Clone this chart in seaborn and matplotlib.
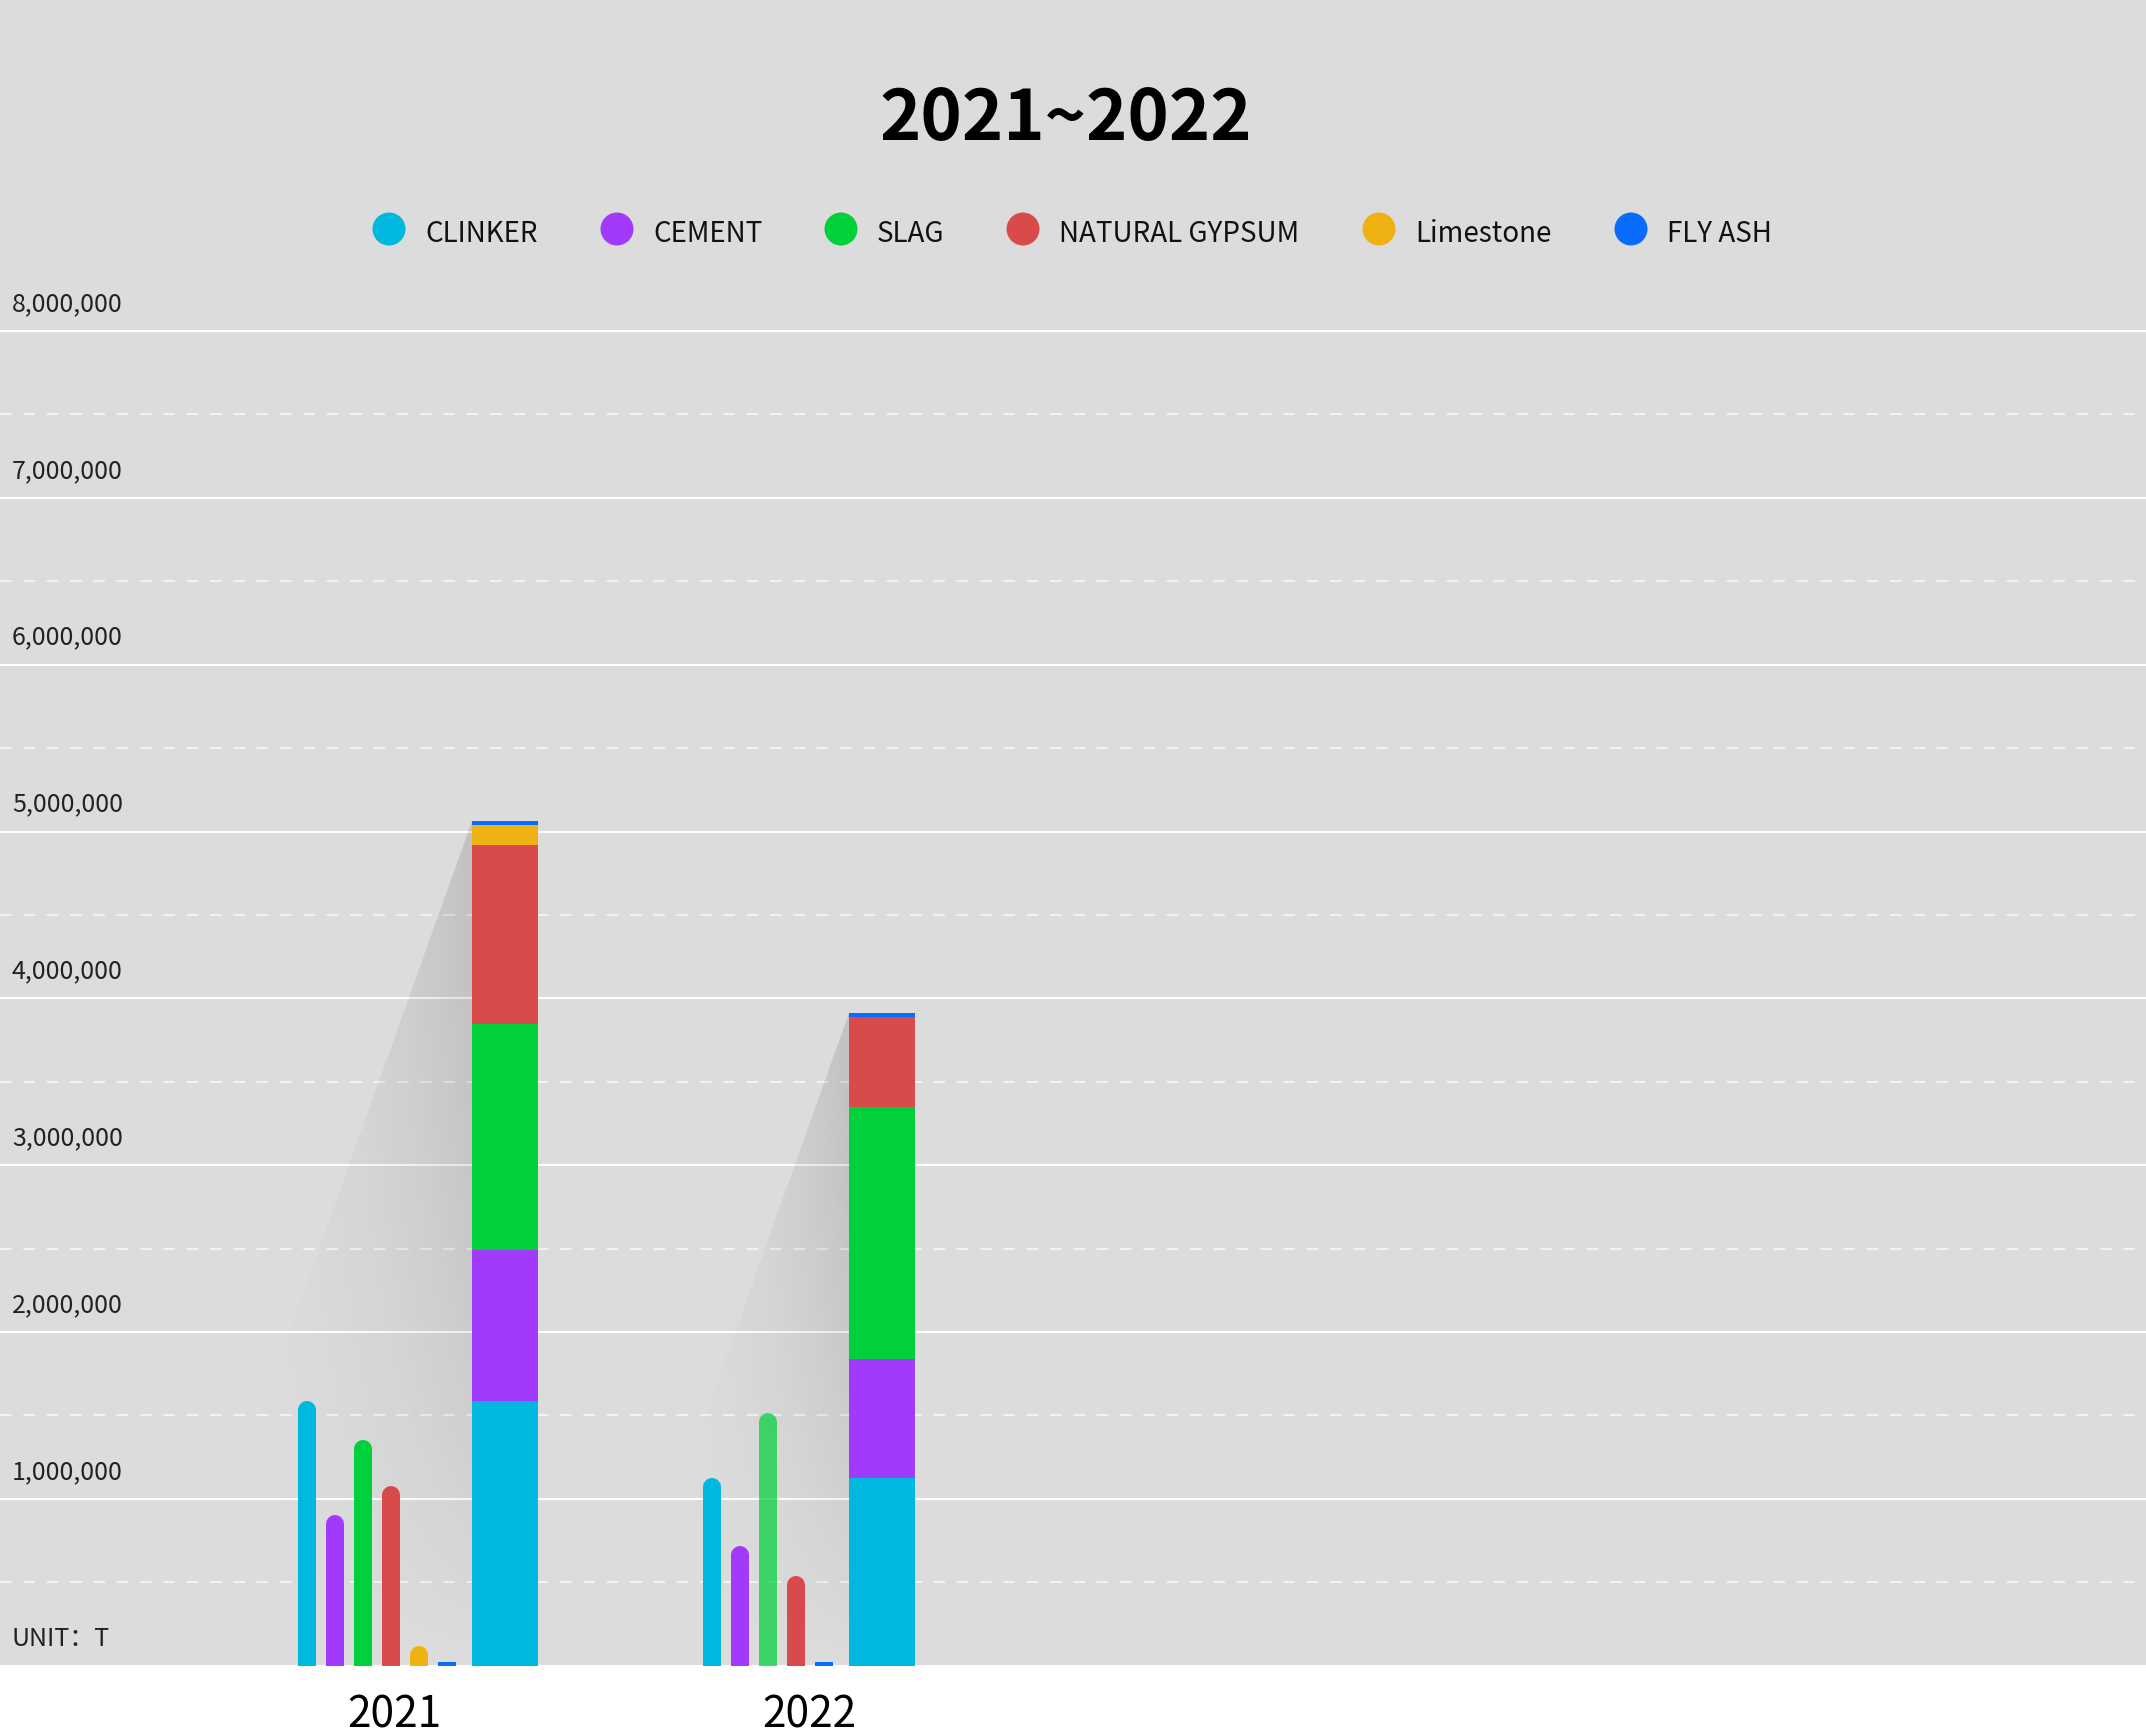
import numpy as np
import pandas as pd
import matplotlib
matplotlib.use("Agg")
import matplotlib.pyplot as plt
import matplotlib.transforms as mtransforms
from matplotlib.patches import Ellipse, Polygon, Rectangle
import seaborn as sns

# ---------------- data ----------------
title = "2021~2022"
years = ["2021", "2022"]
series_names = ["CLINKER", "CEMENT", "SLAG", "NATURAL GYPSUM", "Limestone", "FLY ASH"]
clinker = [1587000, 1123000]
cement = [906000, 715000]
slag = [1352000, 1512000]
natural_gypsum = [1075000, 537000]
limestone = [119000, np.nan]
fly_ash = [22000, 23000]
y_ticks = [0, 1000000, 2000000, 3000000, 4000000, 5000000, 6000000, 7000000, 8000000]
y_tick_labels = ["UNIT：T", "1,000,000", "2,000,000", "3,000,000", "4,000,000",
                 "5,000,000", "6,000,000", "7,000,000", "8,000,000"]

# ---------------- style ----------------
series_colors = ["#00B7DE", "#A23AFB", "#00D13A", "#D94B4B", "#EFB213", "#0A6CFF"]
faded = {(1, 2): 0.72}          # (category, series) drawn lighter
BG = "#dcdcdc"
W_PX, H_PX = 2146, 1736
DPI = 100
CAT_PX = 415.0                  # px per category
CAT0_PX = 394.0                 # px of first category centre
BAR_W_PX, STEP_PX, GAP_PX, STACK_W_PX = 18.0, 28.0, 16.0, 66.0
GROUP_SHIFT_PX = [23.5, -0.5]
AX_BOTTOM = 1 - 1665.7 / H_PX
Y8_FRAC = 1 - 331.0 / H_PX
YMAX = 8200000
AX_H = (Y8_FRAC - AX_BOTTOM) * YMAX / 8000000
SHADOW_SLOPE = 0.357
SHADOW_AMAX = 0.12

sns.set_theme(style="white")
plt.rcParams["font.family"] = ["Noto Sans CJK SC", "DejaVu Sans"]

series_values = [clinker, cement, slag, natural_gypsum, limestone, fly_ash]

fig = plt.figure(figsize=(W_PX / DPI, H_PX / DPI), dpi=DPI)
fig.patch.set_facecolor("white")
fig.add_artist(Rectangle((0, AX_BOTTOM), 1, 1 - AX_BOTTOM, transform=fig.transFigure,
                         facecolor=BG, edgecolor="none", zorder=-5))
ax = fig.add_axes([0, AX_BOTTOM, 1, AX_H])
ax.set_facecolor("none")
for s in ax.spines.values():
    s.set_visible(False)

xlim = (-CAT0_PX / CAT_PX, (W_PX - CAT0_PX) / CAT_PX)
ax_h_px = AX_H * H_PX
px_per_y = ax_h_px / YMAX
r_data = (BAR_W_PX / 2) / px_per_y

# ---------------- layout of groups ----------------
stack_centers = []
stack_lefts = []
small_positions = []  # (cat, series, x)
for i in range(len(years)):
    present = [j for j in range(len(series_names)) if not np.isnan(series_values[j][i])]
    n = len(present)
    width = (n - 1) * STEP_PX + BAR_W_PX + GAP_PX + STACK_W_PX
    left = i * CAT_PX + GROUP_SHIFT_PX[i] - width / 2
    for k, j in enumerate(present):
        small_positions.append((i, j, (left + BAR_W_PX / 2 + k * STEP_PX) / CAT_PX))
    sl = left + (n - 1) * STEP_PX + BAR_W_PX + GAP_PX
    stack_lefts.append(sl / CAT_PX)
    stack_centers.append((sl + STACK_W_PX / 2) / CAT_PX)

# ---------------- grid ----------------
ax.set_axisbelow(True)
ax.set_yticks(y_ticks)
ax.set_yticks([t + 500000 for t in y_ticks[:-1]], minor=True)
ax.yaxis.grid(True, which="major", color="white", linewidth=1.5)
ax.yaxis.grid(True, which="minor", color="#f2f2f2", linewidth=1.5, linestyle=(0, (5.6, 5.6)))
ax.xaxis.grid(False)
ax.tick_params(axis="both", which="both", length=0, labelleft=False, labelbottom=False)

# ---------------- shadows ----------------
totals = [np.nansum([series_values[j][i] for j in range(len(series_names))]) for i in range(len(years))]
for i in range(len(years)):
    top = totals[i]
    x_right = stack_lefts[i]
    w_px = SHADOW_SLOPE * top * px_per_y
    x_left = x_right - w_px / CAT_PX
    nx, ny = 200, 400
    u = np.linspace(0, 1, nx)[None, :]
    v = np.linspace(1, 0, ny)[:, None]
    img = np.zeros((ny, nx, 4))
    img[..., 3] = SHADOW_AMAX * u ** 2.5 * (1 - v ** 2)
    im = ax.imshow(img, extent=(x_left, x_right, 0, top), origin="lower", aspect="auto",
                   interpolation="bilinear", zorder=2)
    poly = Polygon([(x_right, top), (x_right, 0), (x_left, 0)], closed=True,
                   transform=ax.transData, facecolor="none", edgecolor="none")
    im.set_clip_path(poly)

# ---------------- stacked bars (seaborn) ----------------
cum = np.zeros(len(years))
cums = []
for j in range(len(series_names)):
    cum = cum + np.nan_to_num(np.array(series_values[j], dtype=float))
    cums.append(cum.copy())
width_rel = (STACK_W_PX / CAT_PX) / (stack_centers[1] - stack_centers[0])
for j in reversed(range(len(series_names))):
    df = pd.DataFrame({"x": stack_centers, "y": cums[j]})
    sns.barplot(data=df, x="x", y="y", native_scale=True, orient="x", width=width_rel,
                color=series_colors[j], saturation=1, errorbar=None, linewidth=0,
                edgecolor="none", ax=ax, zorder=3)

# ---------------- small rounded bars ----------------
lw_pt = BAR_W_PX * 72 / DPI
for (i, j, x) in small_positions:
    val = series_values[j][i]
    alpha = faded.get((i, j), 1.0)
    if val > 2 * r_data:
        ax.plot([x, x], [-2 * r_data, val - r_data], color=series_colors[j], alpha=alpha,
                linewidth=lw_pt, solid_capstyle="round", zorder=3)
    else:
        ax.bar([x], [val], width=BAR_W_PX / CAT_PX, color=series_colors[j], alpha=alpha,
               linewidth=0, zorder=3)

ax.set_xlim(*xlim)
ax.set_ylim(0, YMAX)
ax.set_xlabel("")
ax.set_ylabel("")

# ---------------- y labels ----------------
blend_y = mtransforms.blended_transform_factory(ax.transAxes, ax.transData)
for val, lab in zip(y_ticks, y_tick_labels):
    ax.annotate(lab, xy=(0, val), xycoords=blend_y, xytext=(12 * 72 / DPI, 20 * 72 / DPI),
                textcoords="offset points", ha="left", va="baseline", fontsize=18,
                fontweight="light", color="#222222", zorder=5)

# ---------------- x labels ----------------
blend_x = mtransforms.blended_transform_factory(ax.transData, fig.transFigure)
for i, yr in enumerate(years):
    ax.text(i, 0.005, yr, transform=blend_x, ha="center", va="baseline", fontsize=30.5,
            color="#000000", clip_on=False)

# ---------------- title ----------------
fig.text(0.4966, 1 - 140 / H_PX, title, ha="center", va="baseline", fontsize=50.5,
         fontweight="bold", color="#000000")

# ---------------- legend ----------------
legend_x_px = [389, 617, 841, 1023, 1379, 1631]
leg_cy = 1 - 229 / H_PX
leg_base = 1 - 241.7 / H_PX
for name, col, xp in zip(series_names, series_colors, legend_x_px):
    fig.add_artist(Ellipse((xp / W_PX, leg_cy), 33 / W_PX, 33 / H_PX, transform=fig.transFigure,
                           facecolor=col, edgecolor="none"))
    fig.text((xp + 36) / W_PX, leg_base, name, ha="left", va="baseline", fontsize=20,
             color="#111111")

fig.savefig("out.png", dpi=DPI, facecolor="white")
